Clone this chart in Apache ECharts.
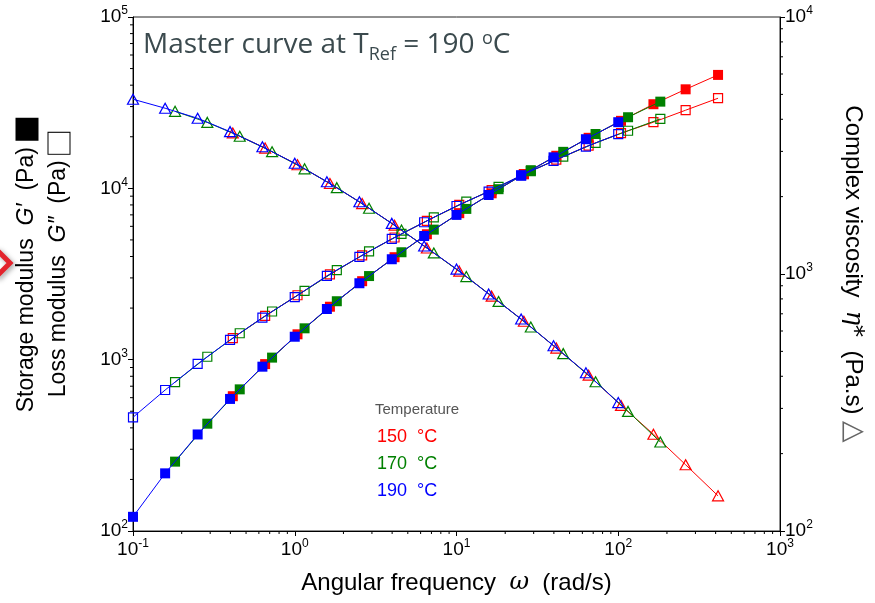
<!DOCTYPE html>
<html>
<head>
<meta charset="utf-8">
<script src="https://cdn.jsdelivr.net/npm/echarts@6/dist/echarts.min.js"></script>
<style>
  html, body { margin: 0; padding: 0; background: #fff; }
  #chart { width: 875px; height: 603px; }
</style>
</head>
<body>
<div id="chart"></div>
<script>
// Angular frequencies (rad/s) after time-temperature shifting to 190 °C
const freq150 = [0.414, 0.656, 1.04, 1.65, 2.61, 4.14, 6.56, 10.4, 16.5, 26.1, 41.4, 65.6, 104, 165, 261, 414];
const freq170 = [0.182, 0.288, 0.457, 0.724, 1.15, 1.82, 2.88, 4.57, 7.24, 11.5, 18.2, 28.8, 45.7, 72.4, 115, 182];
const freq190 = [0.1, 0.158, 0.251, 0.398, 0.631, 1, 1.58, 2.51, 3.98, 6.31, 10, 15.8, 25.1, 39.8, 63.1, 100];

// Storage modulus G' (Pa)
const storage150 = [612, 942, 1406, 2037, 2871, 3963, 5395, 7161, 9354, 12110, 15490, 19720, 24770, 30970, 37840, 45920];
const storage170 = [254, 423, 671, 1028, 1524, 2193, 3076, 4236, 5741, 7586, 9886, 12760, 16330, 20750, 26000, 32060];
const storage190 = [121, 217, 366, 590, 910, 1361, 1976, 2793, 3856, 5271, 6998, 9141, 11860, 15170, 19350, 24320];

// Loss modulus G'' (Pa)
const loss150 = [1336, 1799, 2377, 3148, 4064, 5164, 6457, 8017, 9750, 12080, 14690, 17740, 20990, 24320, 28580, 33570];
const loss170 = [739, 1040, 1426, 1910, 2523, 3327, 4285, 5420, 6776, 8356, 10210, 12610, 15310, 18410, 21680, 25410];
const loss190 = [461, 665, 944, 1303, 1758, 2317, 3083, 3981, 5070, 6339, 7889, 9572, 11890, 14450, 17500, 20700];

// Complex viscosity eta* (Pa.s)
const eta150 = [3540, 3090, 2661, 2249, 1879, 1549, 1262, 1026, 820, 655, 515, 404, 308, 238, 181, 137];
const eta170 = [4295, 3890, 3436, 2992, 2566, 2168, 1803, 1482, 1208, 977, 782, 622, 490, 381, 292, 222];
const eta190 = [4786, 4416, 4036, 3581, 3126, 2698, 2286, 1910, 1574, 1285, 1045, 836, 668, 526, 413, 316];

const tempNames = ['150  °C', '170  °C', '190  °C'];
const tempColors = ['#ff0000', '#008000', '#0000ff'];

// axis ranges
const xRange = [0.1, 1000];
const modRange = [100, 100000];
const etaRange = [100, 10000];

// intermediate (2..9 x 10^k) tick positions inside a range of decades
function minorTicks(lo, hi) {
  const out = [];
  for (let d = lo; d < hi; d *= 10) {
    for (let m = 2; m <= 9; m++) out.push(+(d * m).toPrecision(3));
  }
  return out;
}

const labelFont = 'Liberation Sans, Arial, sans-serif';
const titleFont = 'Open Sans, sans-serif';

function powLabel(v) {
  const e = Math.round(Math.log10(v));
  return '{b|10}{s|' + e + '}';
}
const tickRich = {
  b: { fontSize: 19, fontFamily: labelFont, color: '#000', lineHeight: 24 },
  s: { fontSize: 12, fontFamily: labelFont, color: '#000', lineHeight: 16, verticalAlign: 'top' }
};

const zip = (xs, ys) => xs.map((x, i) => [x, ys[i]]);

const openSquare = 'path://M0,0L10,0L10,10L0,10Z';
const openTriangle = 'path://M5,0L10,9L0,9Z';

function tempSeries(k, freq, gs, gl, eta) {
  const c = tempColors[k];
  const base = {
    type: 'line', name: tempNames[k], xAxisIndex: 0,
    lineStyle: { color: c, width: 1 }, z: 2 + k, animation: false
  };
  return [
    Object.assign({}, base, {
      yAxisIndex: 0, data: zip(freq, gs), symbol: 'rect', symbolSize: 10,
      itemStyle: { color: c }
    }),
    Object.assign({}, base, {
      yAxisIndex: 0, data: zip(freq, gl), symbol: openSquare, symbolSize: 9,
      itemStyle: { color: 'rgba(0,0,0,0)', borderColor: c, borderWidth: 1.2 }
    }),
    Object.assign({}, base, {
      yAxisIndex: 1, data: zip(freq, eta), symbol: openTriangle, symbolSize: [11, 10],
      itemStyle: { color: 'rgba(0,0,0,0)', borderColor: c, borderWidth: 1.2 }
    })
  ];
}

// short intermediate ticks, drawn through the axes' own scales
function tickSeries(values, yIndex, fixed, dir) {
  return {
    type: 'custom', xAxisIndex: 0, yAxisIndex: yIndex, clip: false, silent: true,
    z: 1, animation: false,
    data: values.map(v => dir === 'x' ? [v, fixed] : [fixed, v]),
    renderItem: function (params, api) {
      const p = api.coord([api.value(0), api.value(1)]);
      let shape;
      if (dir === 'x') shape = { x1: p[0], y1: p[1], x2: p[0], y2: p[1] + 3 };
      else if (dir === 'left') shape = { x1: p[0] - 3, y1: p[1], x2: p[0], y2: p[1] };
      else shape = { x1: p[0], y1: p[1], x2: p[0] + 3, y2: p[1] };
      return { type: 'line', shape: shape, style: { stroke: '#000', lineWidth: 1 } };
    }
  };
}

const axisCommon = {
  type: 'log', logBase: 10,
  axisLine: { show: true, onZero: false, lineStyle: { color: '#000', width: 1 } },
  axisTick: { show: true, inside: false, length: 5, lineStyle: { color: '#000', width: 1 } },
  axisLabel: { formatter: powLabel, rich: tickRich, margin: 5 },
  splitLine: { show: false },
  minorTick: { show: false }
};

const chart = echarts.init(document.getElementById('chart'), null, { renderer: 'canvas' });

const titleColor = '#3b4a4e';
const option = {
  animation: false,
  backgroundColor: '#fff',
  grid: { left: 133, right: 91, top: 17, bottom: 72, show: true, borderColor: '#222', borderWidth: 1 },
  title: [
    {
      left: 138, top: 21,
      text: '{a|Master curve at T}{sub|Ref}{a| = 190 }{sup|o}{a|C}',
      textStyle: {
        fontWeight: 'normal',
        rich: {
          a: { fontSize: 28, fontWeight: 'normal', fontFamily: titleFont, color: titleColor, lineHeight: 38 },
          sub: { fontSize: 18, fontWeight: 'normal', fontFamily: titleFont, color: titleColor, lineHeight: 17, verticalAlign: 'bottom' },
          sup: { fontSize: 18, fontWeight: 'normal', fontFamily: titleFont, color: titleColor, lineHeight: 24, verticalAlign: 'middle', padding: [0, 0, 12, 0] }
        }
      }
    },
    {
      left: 375, top: 402, padding: 0, text: 'Temperature',
      textStyle: { fontSize: 15, fontWeight: 'normal', fontFamily: labelFont, color: '#555' }
    }
  ],
  legend: {
    orient: 'vertical', left: 372, top: 428, padding: 0,
    icon: 'none', itemWidth: 0, itemHeight: 18, itemGap: 9,
    selectedMode: false,
    textStyle: { fontSize: 18, fontFamily: labelFont, lineHeight: 18 },
    data: tempNames.map((n, k) => ({ name: n, textStyle: { color: tempColors[k] } }))
  },
  xAxis: [Object.assign({}, axisCommon, {
    min: xRange[0], max: xRange[1], position: 'bottom',
    name: 'Angular frequency  {i|ω}  (rad/s)',
    nameLocation: 'middle', nameGap: 40,
    nameTextStyle: {
      fontSize: 24, fontFamily: labelFont, color: '#000',
      rich: { i: { fontSize: 24, fontStyle: 'italic', fontFamily: 'DejaVu Serif, serif', color: '#000' } }
    },
    axisLabel: { formatter: powLabel, rich: tickRich, margin: 7 }
  })],
  yAxis: [
    Object.assign({}, axisCommon, {
      min: modRange[0], max: modRange[1], position: 'left',
      name: '{t|Storage modulus  }{i|G′}{t|  (Pa) }{f| }\n{t|Loss modulus  }{i|G″}{t|  (Pa) }{e| }',
      nameLocation: 'middle', nameRotate: 90, nameGap: 58,
      nameTextStyle: {
        padding: [0, 0, 0, 18],
        rich: {
          t: { fontSize: 23, fontFamily: labelFont, color: '#000', lineHeight: 32 },
          i: { fontSize: 23, fontStyle: 'italic', fontFamily: labelFont, color: '#000', lineHeight: 32 },
          f: { width: 23, height: 23, backgroundColor: '#000', lineHeight: 32 },
          e: { width: 21, height: 21, borderColor: '#000', borderWidth: 1, backgroundColor: '#fff', lineHeight: 32 }
        }
      }
    }),
    Object.assign({}, axisCommon, {
      min: etaRange[0], max: etaRange[1], position: 'right',
      name: '{t|Complex viscosity  }{i|η*}{t|  (Pa.s) }{g|△}',
      nameLocation: 'middle', nameRotate: -90, nameGap: 58,
      nameTextStyle: {
        rich: {
          t: { fontSize: 24, fontFamily: labelFont, color: '#000', lineHeight: 30 },
          i: { fontSize: 24, fontStyle: 'italic', fontFamily: 'DejaVu Serif, serif', color: '#000', lineHeight: 30 },
          g: { fontSize: 28, fontFamily: 'DejaVu Sans, sans-serif', color: '#666', lineHeight: 30 }
        }
      }
    })
  ],
  graphic: [
    {
      type: 'polyline', silent: true, z: 100,
      shape: { points: [[-4, 249], [10, 263], [-4, 277]] },
      style: {
        stroke: '#e3232c', fill: null, lineWidth: 5,
        shadowBlur: 5, shadowColor: 'rgba(0,0,0,0.35)', shadowOffsetX: 2, shadowOffsetY: 2
      }
    }
  ],
  series: [].concat(
    tickSeries(minorTicks(xRange[0], xRange[1]), 0, modRange[0], 'x'),
    tickSeries(minorTicks(modRange[0], modRange[1]), 0, xRange[0], 'left'),
    tickSeries(minorTicks(etaRange[0], etaRange[1]), 1, xRange[1], 'right'),
    tempSeries(0, freq150, storage150, loss150, eta150),
    tempSeries(1, freq170, storage170, loss170, eta170),
    tempSeries(2, freq190, storage190, loss190, eta190)
  )
};

chart.setOption(option);
</script>
</body>
</html>
